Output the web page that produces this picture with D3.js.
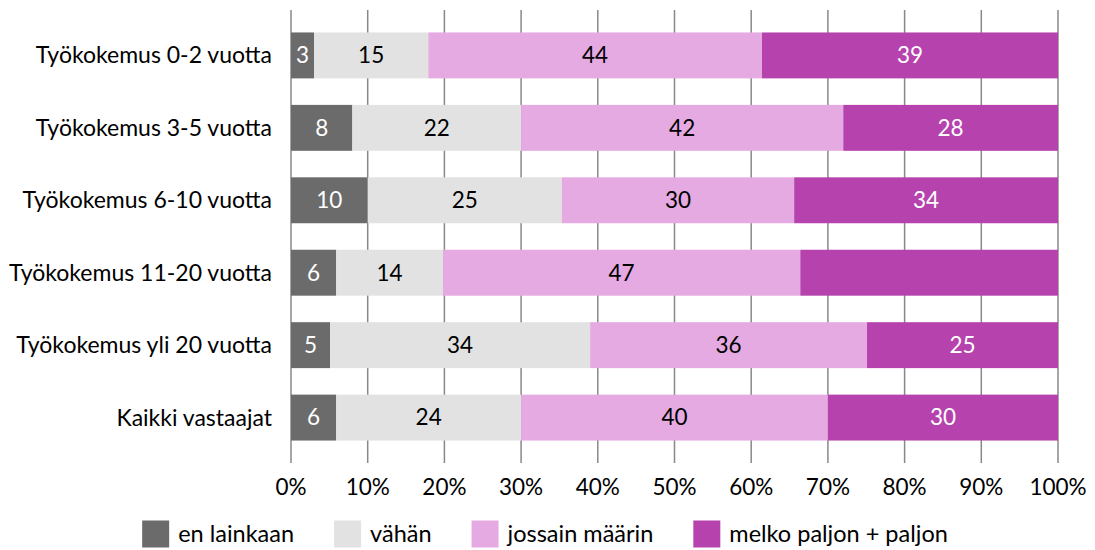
<!DOCTYPE html>
<html>
<head>
<meta charset="utf-8">
<script src="https://cdn.jsdelivr.net/npm/d3@7"></script>
<style>
  html, body { margin: 0; padding: 0; background: #fff; }
  svg { display: block; }
  text { font-family: Lato, "Open Sans", sans-serif; }
</style>
</head>
<body>
<svg id="chart" width="1095" height="550"></svg>
<script>
const categories = [
  "Työkokemus 0-2 vuotta",
  "Työkokemus 3-5 vuotta",
  "Työkokemus 6-10 vuotta",
  "Työkokemus 11-20 vuotta",
  "Työkokemus yli 20 vuotta",
  "Kaikki vastaajat"
];
const seriesNames = ["en lainkaan", "vähän", "jossain määrin", "melko paljon + paljon"];
const enLainkaan = [3.0, 8.0, 10.0, 5.9, 5.1, 5.9];
const vahan      = [14.9, 22.0, 25.3, 13.9, 33.9, 24.1];
const jossain    = [43.5, 42.0, 30.3, 46.6, 36.1, 40.0];
const melko      = [38.6, 28.0, 34.4, 33.6, 24.9, 30.0];
// label shown on each segment (null = no label in the original)
const labels = [
  [3, 15, 44, 39],
  [8, 22, 42, 28],
  [10, 25, 30, 34],
  [6, 14, 47, null],
  [5, 34, 36, 25],
  [6, 24, 40, 30]
];
const xTicks = [0, 10, 20, 30, 40, 50, 60, 70, 80, 90, 100];
const colors = ["#6b6b6b", "#e1e2e1", "#e5aae2", "#b643ad"];
const labelColors = ["#ffffff", "#000000", "#000000", "#ffffff"];

const seriesData = [enLainkaan, vahan, jossain, melko];
const rows = categories.map((c, i) => {
  const r = { cat: c };
  seriesNames.forEach((s, j) => r[s] = seriesData[j][i]);
  return r;
});

const svg = d3.select("#chart");
const FS = 23;
const FS_NUM = 22.5;
const FS_LEG = 23.5;

const x = d3.scaleLinear().domain([0, 100]).range([291, 1058]);
const y = d3.scaleBand().domain(categories).range([10, 463])
  .paddingInner(0.366).paddingOuter(0.31);

// grid lines
svg.append("g").selectAll("line").data(xTicks).join("line")
  .attr("x1", d => x(d)).attr("x2", d => x(d))
  .attr("y1", 10).attr("y2", 463)
  .attr("stroke", "#888888").attr("stroke-width", 1.5);

const stack = d3.stack().keys(seriesNames)(rows);

const gBars = svg.append("g");
stack.forEach((layer, j) => {
  const g = gBars.append("g").attr("fill", colors[j]);
  g.selectAll("rect").data(layer).join("rect")
    .attr("x", d => x(d[0]))
    .attr("width", d => x(d[1]) - x(d[0]))
    .attr("y", d => y(d.data.cat))
    .attr("height", y.bandwidth());
});

// segment labels
stack.forEach((layer, j) => {
  svg.append("g").selectAll("text").data(layer.map((d, i) => ({d, i})).filter(o => labels[o.i][j] !== null))
    .join("text")
    .attr("x", o => (x(o.d[0]) + x(o.d[1])) / 2)
    .attr("y", o => y(o.d.data.cat) + y.bandwidth() / 2)
    .attr("dy", "0.35em")
    .attr("text-anchor", "middle")
    .attr("font-size", FS_NUM)
    .attr("fill", labelColors[j])
    .text(o => labels[o.i][j]);
});

// category labels
svg.append("g").selectAll("text").data(categories).join("text")
  .attr("x", 272)
  .attr("y", d => y(d) + y.bandwidth() / 2)
  .attr("dy", "0.35em")
  .attr("text-anchor", "end")
  .attr("font-size", FS)
  .attr("fill", "#000")
  .text(d => d);

// x tick labels
svg.append("g").selectAll("text").data(xTicks).join("text")
  .attr("x", d => x(d))
  .attr("y", 487)
  .attr("dy", "0.35em")
  .attr("text-anchor", "middle")
  .attr("font-size", FS_NUM)
  .attr("fill", "#000")
  .text(d => d + "%");

// legend
const legend = svg.append("g");
const items = legend.selectAll("g").data(seriesNames).join("g");
items.append("rect").attr("width", 27).attr("height", 27).attr("y", -13.5)
  .attr("fill", (d, i) => colors[i]);
items.append("text").attr("x", 36).attr("dy", "0.35em")
  .attr("font-size", FS_LEG).attr("fill", "#000").text(d => d);
let cx = 0;
items.each(function() {
  const w = this.querySelector("text").getComputedTextLength();
  d3.select(this).attr("transform", `translate(${cx},0)`);
  cx += 36 + w + 40;
});
const total = cx - 40;
legend.attr("transform", `translate(${545 - total / 2},534)`);
</script>
</body>
</html>
